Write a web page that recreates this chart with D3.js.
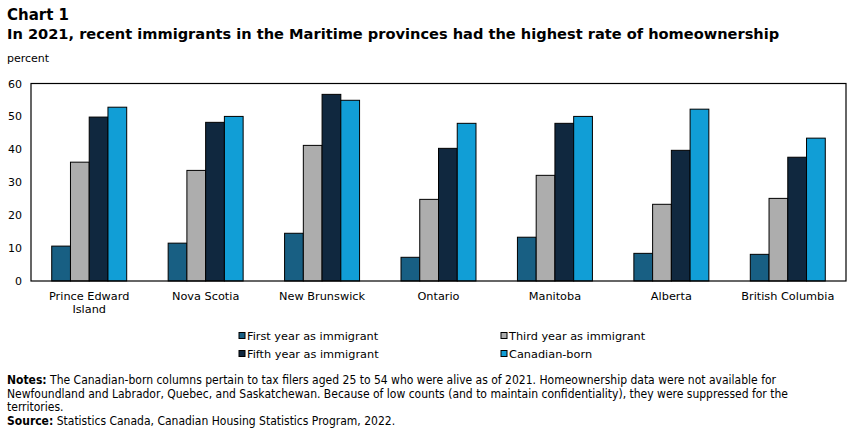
<!DOCTYPE html>
<html>
<head>
<meta charset="utf-8">
<script src="https://cdn.jsdelivr.net/npm/d3@7"></script>
<style>
  body { margin: 0; background: #fff; }
  text { font-family: "DejaVu Sans", Verdana, sans-serif; fill: #000; }
  .notes text { font-family: "Liberation Sans Narrow", "DejaVu Sans Condensed", sans-serif; }
</style>
</head>
<body>
<div id="chart"></div>
<script>
// provinces, values in percent
var provinces = [["Prince Edward", "Island"], ["Nova Scotia"], ["New Brunswick"], ["Ontario"], ["Manitoba"], ["Alberta"], ["British Columbia"]];
var seriesNames = ["First year as immigrant", "Third year as immigrant", "Fifth year as immigrant", "Canadian-born"];
var seriesColors = ["#185f83", "#adadad", "#10283f", "#119ed6"];
var firstYear = [10.6, 11.5, 14.5, 7.2, 13.3, 8.4, 8.1];
var thirdYear = [36.1, 33.6, 41.2, 24.8, 32.1, 23.3, 25.1];
var fifthYear = [49.8, 48.2, 56.7, 40.3, 47.9, 39.7, 37.6];
var canadianBorn = [52.8, 50.0, 54.9, 47.9, 50.0, 52.2, 43.4];
var yTicks = [0, 10, 20, 30, 40, 50, 60];

(function() {
  var width = 851, height = 432;
  var margin = {left: 31, right: 5, top: 83.5, bottom: 151};
  var allSeries = [firstYear, thirdYear, fifthYear, canadianBorn];

  var svg = d3.select("#chart").append("svg")
              .attr("width", width)
              .attr("height", height);

  // titles
  svg.append("text").attr("x", 7).attr("y", 20)
     .style("font-weight", "bold").style("font-size", "15px").text("Chart 1");
  svg.append("text").attr("x", 7).attr("y", 39)
     .style("font-weight", "bold").style("font-size", "14.6px")
     .text("In 2021, recent immigrants in the Maritime provinces had the highest rate of homeownership");
  svg.append("text").attr("x", 7).attr("y", 62)
     .style("font-size", "11px").text("percent");

  var x = d3.scaleBand()
            .domain(d3.range(provinces.length))
            .range([margin.left, width - margin.right])
            .paddingInner(0.356)
            .paddingOuter(0.178);
  var xs = d3.scaleBand().domain(d3.range(4)).range([0, x.bandwidth()]);
  var y = d3.scaleLinear().domain([0, 60]).range([height - margin.bottom, margin.top]);

  // y axis
  var yAxis = d3.axisLeft(y).tickValues(yTicks).tickSize(0).tickPadding(9);
  var gy = svg.append("g").attr("transform", "translate(" + margin.left + ",0)").call(yAxis);
  gy.select(".domain").remove();
  gy.selectAll("text").style("font-size", "11px").style("font-family", "DejaVu Sans, sans-serif");

  // bars
  var groups = svg.selectAll(".grp").data(provinces).enter().append("g")
                  .attr("transform", function(d, i) { return "translate(" + x(i) + ",0)"; });
  groups.selectAll("rect").data(function(d, i) {
      return allSeries.map(function(s, k) { return {k: k, v: s[i]}; });
    }).enter().append("rect")
    .attr("x", function(d) { return xs(d.k); })
    .attr("width", xs.bandwidth())
    .attr("y", function(d) { return y(d.v); })
    .attr("height", function(d) { return y(0) - y(d.v); })
    .attr("fill", function(d) { return seriesColors[d.k]; })
    .attr("stroke", "#000").attr("stroke-width", 1);

  // frame
  svg.append("rect")
     .attr("x", margin.left).attr("y", y(60))
     .attr("width", width - margin.right - margin.left)
     .attr("height", y(0) - y(60))
     .attr("fill", "none").attr("stroke", "#000").attr("stroke-width", 1.2);

  // x labels
  provinces.forEach(function(lines, i) {
    lines.forEach(function(l, j) {
      svg.append("text")
         .attr("x", x(i) + x.bandwidth() / 2)
         .attr("y", y(0) + 19 + j * 13)
         .attr("text-anchor", "middle")
         .style("font-size", "11.3px").text(l);
    });
  });

  // legend
  var legPos = [[239, 336], [501, 336], [239, 354], [501, 354]];
  seriesNames.forEach(function(n, k) {
    svg.append("rect").attr("x", legPos[k][0]).attr("y", legPos[k][1] - 3.5)
       .attr("width", 6).attr("height", 6)
       .attr("fill", seriesColors[k]).attr("stroke", "#000").attr("stroke-width", 1);
    svg.append("text").attr("x", legPos[k][0] + 8).attr("y", legPos[k][1] + 4)
       .style("font-size", "11.3px").text(n);
  });

  // notes
  var notes = svg.append("g").attr("class", "notes");
  var noteLines = [
    [["Notes:", true], [" The Canadian-born columns pertain to tax filers aged 25 to 54 who were alive as of 2021. Homeownership data were not available for", false]],
    [["Newfoundland and Labrador, Quebec, and Saskatchewan. Because of low counts (and to maintain confidentiality), they were suppressed for the", false]],
    [["territories.", false]],
    [["Source:", true], [" Statistics Canada, Canadian Housing Statistics Program, 2022.", false]]
  ];
  noteLines.forEach(function(parts, i) {
    var t = notes.append("text").attr("x", 7).attr("y", 384 + i * 13.5).style("font-size", "12px");
    parts.forEach(function(p) {
      t.append("tspan").style("font-weight", p[1] ? "bold" : "normal").text(p[0]);
    });
  });
})();
</script>
</body>
</html>
